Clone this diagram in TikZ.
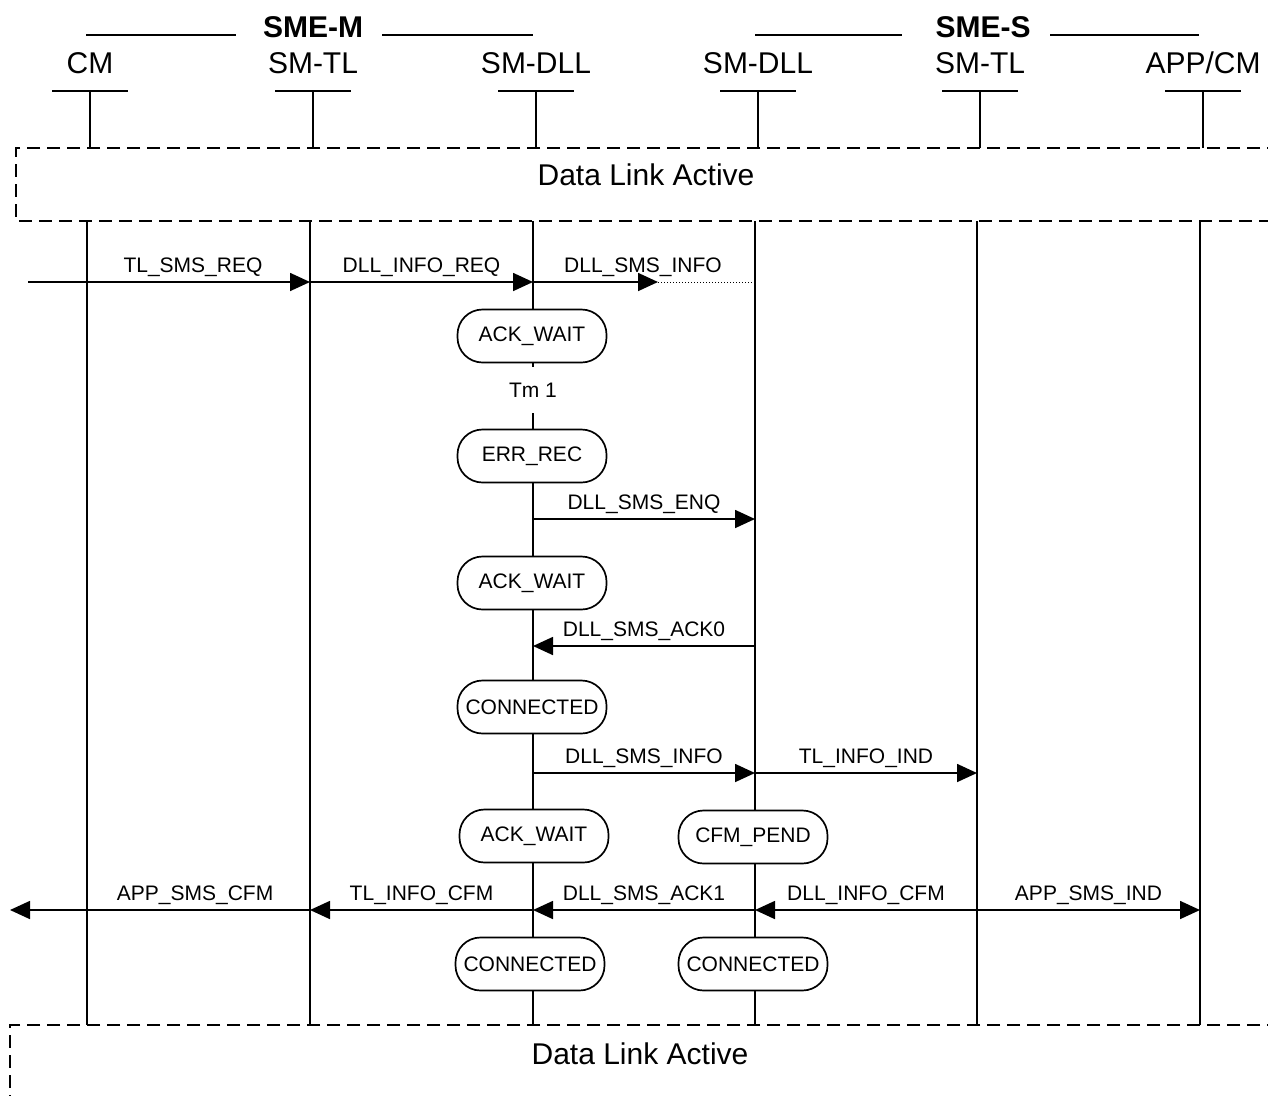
\documentclass[tikz,border=0pt]{standalone}
\usepackage{fontspec}
\setmainfont{Liberation Sans}
\usetikzlibrary{arrows.meta,positioning}

\begin{document}
\begin{tikzpicture}[x=1pt, y=-1pt, line width=1.7pt,
  every node/.style={inner sep=0pt, font=\fontsize{21}{25}\selectfont},
  big/.style={font=\fontsize{30}{36}\selectfont},
  group/.style={font=\fontsize{30}{36}\selectfont\bfseries},
  state/.style={draw, fill=white, rounded corners=25pt, minimum width=149pt, minimum height=53pt, inner xsep=8pt},
  msg/.style={-{Triangle[length=20pt, width=18pt]}},
  lbl/.style={anchor=base, yshift=10pt},
  dashbox/.style={dash pattern=on 13pt off 7pt}]
  \useasboundingbox (0,0) rectangle (1268,1095);

  % entity groups
  \node[group, anchor=base] (smem) at (313,37) {SME-M};
  \node[group, anchor=base] (smes) at (983,37) {SME-S};
  \draw (86,35) -- (236,35);
  \draw (382,35) -- (533,35);
  \draw (755,35) -- (902,35);
  \draw (1050,35) -- (1199,35);

  % entities
  \node[big, anchor=base] (cm) at (90,73) {CM};
  \node[big, anchor=base] (tlm) at (313,73) {SM-TL};
  \node[big, anchor=base] (dllm) at (536,73) {SM-DLL};
  \node[big, anchor=base] (dlls) at (758,73) {SM-DLL};
  \node[big, anchor=base] (tls) at (980,73) {SM-TL};
  \node[big, anchor=base] (app) at (1203,73) {APP/CM};

  % stems and lifelines
  \foreach \n/\xt/\xb in {cm/90/87, tlm/313/310, dllm/536/533, dlls/758/755, tls/980/977, app/1203/1200} {
    \coordinate (\n T) at (\xt,91);
    \coordinate (\n B) at (\xt,148);
    \coordinate (\n L) at (\xb,221);
    \coordinate (\n E) at (\xb,1025);
    \draw ([xshift=-38pt]\n T) -- ([xshift=38pt]\n T);
    \draw (\n T) -- (\n B);
    \draw (\n L) -- (\n E);
  }

  % data link active
  \draw[dashbox] (1280,148) -- (16,148) -- (16,221) -- (1280,221);
  \node[big, anchor=base] (dlaTop) at (646,185) {Data Link Active};
  \draw[dashbox] (1280,1025) -- (10,1025) -- (10,1110);
  \node[big, anchor=base] (dlaBot) at (640,1064) {Data Link Active};

  % message levels
  \coordinate (lvReq) at (0,282);
  \coordinate (lvEnq) at (0,519);
  \coordinate (lvAck) at (0,646);
  \coordinate (lvInfo) at (0,773);
  \coordinate (lvCfm) at (0,910);
  \coordinate (inCM) at (28,282);
  \coordinate (outCM) at (10,910);
  \coordinate (infoEnd) at (658,282);

  \draw[msg] (inCM) -- node[lbl, pos=.585] {TL\_SMS\_REQ} (tlmL |- lvReq);
  \draw[msg] (tlmL |- lvReq) -- node[lbl] {DLL\_INFO\_REQ} (dllmL |- lvReq);
  \draw[msg] (dllmL |- lvReq) -- node[lbl, pos=.88] {DLL\_SMS\_INFO} (infoEnd);
  \draw[dotted, line width=1pt] (infoEnd) -- (dllsL |- lvReq);

  \draw[msg] (dllmL |- lvEnq) -- node[lbl] {DLL\_SMS\_ENQ} (dllsL |- lvEnq);
  \draw[msg] (dllsL |- lvAck) -- node[lbl] {DLL\_SMS\_ACK0} (dllmL |- lvAck);
  \draw[msg] (dllmL |- lvInfo) -- node[lbl] {DLL\_SMS\_INFO} (dllsL |- lvInfo);
  \draw[msg] (dllsL |- lvInfo) -- node[lbl] {TL\_INFO\_IND} (tlsL |- lvInfo);

  \draw[msg] (tlmL |- lvCfm) -- node[lbl, pos=.383] {APP\_SMS\_CFM} (outCM);
  \draw[msg] (dllmL |- lvCfm) -- node[lbl] {TL\_INFO\_CFM} (tlmL |- lvCfm);
  \draw[msg] (dllsL |- lvCfm) -- node[lbl] {DLL\_SMS\_ACK1} (dllmL |- lvCfm);
  \draw[msg] (tlsL |- lvCfm) -- node[lbl] {DLL\_INFO\_CFM} (dllsL |- lvCfm);
  \draw[msg] (tlsL |- lvCfm) -- node[lbl] {APP\_SMS\_IND} (appL |- lvCfm);

  % states
  \node[state] (ackA) at (532,336) {ACK\_WAIT};
  \node[fill=white, minimum height=46pt, inner xsep=4pt] (tm) at (533,390) {Tm 1};
  \node[state] (errRec) at (532,456) {ERR\_REC};
  \node[state] (ackB) at (532,583) {ACK\_WAIT};
  \node[state] (connA) at (532,707) {CONNECTED};
  \node[state] (ackC) at (534,836) {ACK\_WAIT};
  \node[state] (cfmPend) at (753,837) {CFM\_PEND};
  \node[state] (connB) at (530,964) {CONNECTED};
  \node[state] (connC) at (753,964) {CONNECTED};
\end{tikzpicture}
\end{document}
